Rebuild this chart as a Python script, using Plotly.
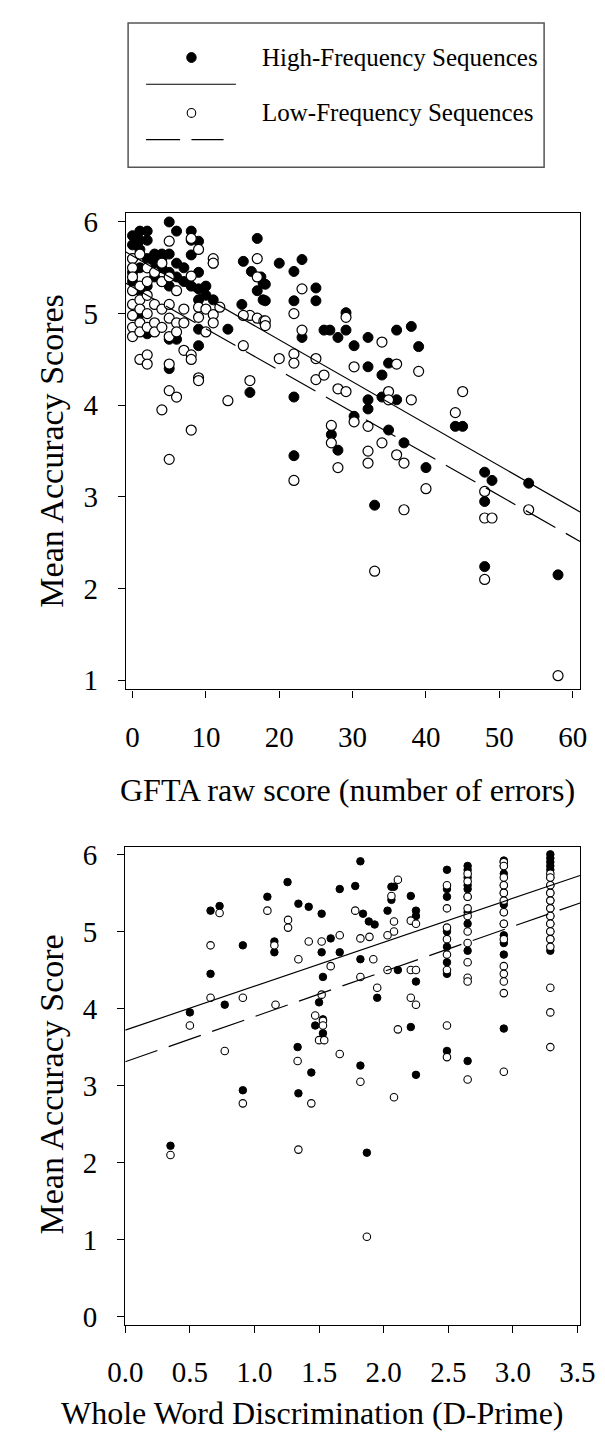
import plotly.graph_objects as go

# ---------------- data: top panel (GFTA raw score vs accuracy) ----------------
gfta_hf_x = [0, 0, 0, 0, 0, 1, 1, 1, 1, 1, 1, 2, 2, 2, 2, 2, 3, 3, 3, 4, 4, 4, 4,
             5, 5, 5, 5, 5, 5, 6, 6, 6, 6, 7, 7, 8, 8, 8, 8, 9, 9, 9, 9, 9, 9, 10, 10, 11, 11,
             13, 15.1, 16.2, 17, 17.5, 17.8, 17, 17.8, 14.9, 16,
             20, 23.1, 22, 18.1, 18.1, 25, 22, 25, 29.1, 23.1, 26.1, 26.9, 28, 29.1, 30.2,
             32.1, 36, 38, 39, 32.1, 34.9, 34, 22, 32.1, 32.1, 34, 36, 30.2, 27.1, 28, 34.9,
             37, 22, 40, 33, 44, 45, 48, 49, 54, 48, 48, 58]
gfta_hf_y = [5.85, 5.75, 5.6, 5.45, 5.35, 5.9, 5.8, 5.7, 5.5, 5.0, 5.25, 5.9, 5.8, 5.6, 4.78, 5.3,
             5.65, 5.4, 5.55, 5.6, 5.5, 5.35, 5.65,
             6.0, 5.65, 5.45, 5.3, 4.72, 4.4, 5.9, 5.55, 5.4, 4.72, 5.5, 5.35, 5.9, 5.8, 5.64, 5.3,
             5.79, 5.45, 5.27, 5.15, 4.83, 4.65, 5.3, 5.2, 5.55, 5.15,
             4.83, 5.57, 5.46, 5.82, 5.4, 5.33, 5.25, 5.15, 5.1, 4.14,
             5.55, 5.59, 5.46, 5.32, 5.14, 5.28, 5.14, 5.14, 5.01, 4.74, 4.82, 4.82, 4.74, 4.82, 4.65,
             4.74, 4.82, 4.86, 4.64, 4.42, 4.46, 4.33, 4.09, 4.06, 3.96, 4.09, 4.06, 3.88, 3.68, 3.51, 3.73,
             3.59, 3.45, 3.32, 2.91, 3.77, 3.77, 3.27, 3.18, 3.15, 2.95, 2.24, 2.15]

gfta_lf_x = [0, 0, 0, 0, 0, 0, 0, 0, 1, 1, 1, 1, 1, 1, 1, 2, 2, 2, 2, 2, 2, 2, 3, 3, 3, 3,
             4, 4, 4, 4, 4, 5, 5, 5, 5, 5, 5, 5, 5, 6, 6, 6, 6, 7, 7, 7, 8, 8, 8, 8, 8,
             9, 9, 9, 9, 9, 10, 10, 11, 11, 11, 11,
             11.9, 13, 15.1, 16, 17, 17.9, 16, 17, 17, 15.1,
             23.1, 22, 18.1, 18.1, 23.1, 29.1, 20, 22, 22, 25, 25, 26.1, 28, 29.1, 34, 36, 39,
             30.2, 34.9, 34.9, 38, 30.2, 32.1, 27.1, 27.1, 34, 32.1, 32.1, 36, 37, 28, 22, 40,
             33, 37, 45, 44, 48, 48, 49, 54, 48, 58]
gfta_lf_y = [5.6, 5.5, 5.4, 5.25, 5.1, 4.98, 4.85, 4.75, 5.65, 5.3, 5.15, 5.05, 4.9, 4.8, 4.5,
             5.5, 5.35, 5.2, 5.0, 4.85, 4.55, 4.45, 5.45, 5.1, 4.9, 4.8,
             5.35, 5.05, 4.85, 3.95, 5.55, 5.79, 5.4, 5.1, 4.95, 4.75, 4.45, 4.16, 3.41,
             5.25, 4.9, 4.8, 4.09, 5.05, 4.6, 4.9, 5.82, 5.41, 4.55, 4.5, 3.73,
             5.7, 5.07, 4.96, 4.3, 4.27, 4.8, 5.05, 5.6, 5.55, 4.99, 4.9,
             5.07, 4.05, 4.65, 4.98, 4.95, 4.92, 4.27, 5.6, 5.4, 4.98,
             5.27, 5.0, 4.92, 4.87, 4.82, 4.96, 4.51, 4.56, 4.46, 4.51, 4.28, 4.33, 4.18, 4.15, 4.69, 4.45, 4.37,
             4.42, 4.15, 4.06, 4.06, 3.82, 3.77, 3.78, 3.59, 3.59, 3.5, 3.37, 3.46, 3.37, 3.32, 3.18, 3.09,
             2.19, 2.86, 4.15, 3.92, 3.06, 2.77, 2.77, 2.86, 2.1, 1.05]

# regression lines (intercept, slope)
gfta_hf_fit = (5.63, -0.0458)
gfta_lf_fit = (5.29, -0.0455)

# ---------------- data: bottom panel (D-prime vs accuracy) ----------------
dp_hf_x = [1.82, 1.256, 1.10, 0.66, 0.73, 1.34, 1.42, 1.52, 1.66, 1.78, 1.84, 1.885, 1.93, 2.03,
           2.06, 2.08, 2.21, 2.06, 1.154, 1.154, 0.91, 0.66, 1.52, 1.59, 1.66, 1.82, 1.53, 2.11,
           0.77, 1.95, 1.50, 1.53, 1.47, 1.53, 1.334, 1.44, 1.82, 0.91, 1.34, 1.87, 2.21, 0.35, 0.5,
           2.25, 2.25, 2.25, 2.25,
           2.49, 2.49, 2.49, 2.49, 2.49, 2.49, 2.49, 2.49,
           2.65, 2.65, 2.65, 2.65, 2.65, 2.65, 2.65, 2.65, 2.65, 2.65,
           2.93, 2.93, 2.93, 2.93, 2.93, 2.93, 2.93, 2.93, 2.93, 2.93, 2.93, 2.93, 2.93,
           3.29, 3.29, 3.29, 3.29, 3.29, 3.29, 3.29, 3.29, 3.29, 3.29, 3.29, 3.29, 3.29, 3.29, 3.29]
dp_hf_y = [5.91, 5.64, 5.45, 5.27, 5.33, 5.36, 5.32, 5.23, 5.55, 5.59, 5.23, 5.13, 5.09, 5.27,
           5.58, 5.58, 5.46, 5.41, 4.87, 4.73, 4.82, 4.45, 4.73, 4.91, 4.73, 4.64, 4.41, 4.50,
           4.05, 4.14, 4.08, 3.86, 3.78, 3.68, 3.50, 3.17, 3.26, 2.94, 2.90, 2.13, 3.76, 2.22, 3.95,
           5.27, 5.2, 4.35, 3.14,
           5.8, 5.55, 5.45, 5.0, 4.8, 4.6, 4.45, 3.45,
           5.85, 5.8, 5.7, 5.6, 5.55, 5.45, 5.25, 5.1, 4.75, 3.32,
           5.92, 5.9, 5.85, 5.75, 5.6, 5.5, 5.35, 5.25, 5.1, 4.95, 4.85, 4.7, 3.74,
           6.0, 5.95, 5.9, 5.85, 5.8, 5.7, 5.6, 5.5, 5.4, 5.3, 5.2, 5.1, 5.0, 4.9, 4.75]

dp_lf_x = [0.73, 1.10, 1.26, 1.26, 2.11, 2.06, 1.78, 2.08, 2.08, 2.03, 2.21, 0.66, 1.154, 1.42,
           1.52, 1.66, 1.82, 1.89, 1.92, 1.34, 1.59, 1.82, 2.03, 2.21, 1.95, 0.66, 0.91, 1.163,
           1.52, 2.21, 1.47, 1.53, 1.53, 1.50, 1.54, 1.334, 0.77, 1.66, 1.82, 0.91, 1.44, 1.34,
           1.87, 2.11, 2.08, 0.35, 0.5,
           2.25, 2.25, 2.25,
           2.49, 2.49, 2.49, 2.49, 2.49, 2.49, 2.49, 2.49,
           2.65, 2.65, 2.65, 2.65, 2.65, 2.65, 2.65, 2.65, 2.65, 2.65, 2.65,
           2.93, 2.93, 2.93, 2.93, 2.93, 2.93, 2.93, 2.93, 2.93, 2.93, 2.93, 2.93, 2.93, 2.93,
           3.29, 3.29, 3.29, 3.29, 3.29, 3.29, 3.29, 3.29, 3.29, 3.29, 3.29, 3.29, 3.29, 3.29]
dp_lf_y = [5.24, 5.27, 5.15, 5.05, 5.67, 5.46, 5.27, 5.13, 5.0, 4.95, 5.14, 4.82, 4.82, 4.87,
           4.87, 4.95, 4.91, 4.93, 4.64, 4.64, 4.55, 4.41, 4.50, 4.50, 4.27, 4.14, 4.14, 4.05,
           4.18, 4.14, 3.91, 3.84, 3.78, 3.59, 3.59, 3.32, 3.45, 3.41, 3.05, 2.77, 2.77, 2.17,
           1.04, 3.73, 2.85, 2.10, 3.78,
           5.1, 4.5, 4.05,
           5.6, 5.3, 5.05, 4.9, 4.7, 4.5, 3.78, 3.37,
           5.75, 5.65, 5.45, 5.3, 5.2, 5.0, 4.85, 4.6, 4.4, 4.35, 3.08,
           5.9, 5.85, 5.7, 5.6, 5.5, 5.4, 5.25, 5.1, 4.9, 4.55, 4.45, 4.35, 4.2, 3.18,
           5.75, 5.7, 5.6, 5.5, 5.4, 5.3, 5.2, 5.1, 5.0, 4.9, 4.8, 4.27, 3.95, 3.5]

dp_hf_fit = (3.72, 0.57)
dp_lf_fit = (3.31, 0.585)

# axis settings
top_xrange = [-0.9, 61]
top_yrange = [0.9, 6.1]
bot_xrange = [0, 3.52]
bot_yrange = [-0.1, 6.1]
top_xticks = [0, 10, 20, 30, 40, 50, 60]
top_yticks = [1, 2, 3, 4, 5, 6]
bot_xticks = [0.0, 0.5, 1.0, 1.5, 2.0, 2.5, 3.0, 3.5]
bot_yticks = [0, 1, 2, 3, 4, 5, 6]

legend_labels = ["High-Frequency Sequences", "Low-Frequency Sequences"]
top_xtitle = "GFTA raw score (number of errors)"
top_ytitle = "Mean Accuracy Scores"
bot_xtitle = "Whole Word Discrimination (D-Prime)"
bot_ytitle = "Mean Accuracy Score"

FONT = "Liberation Serif, Times New Roman, serif"
W, H = 605, 1439


def fit_line(fit, xr):
    a, b = fit
    return [xr[0], xr[1]], [a + b * xr[0], a + b * xr[1]]


fig = go.Figure()

# top panel
fig.add_trace(go.Scatter(x=gfta_hf_x, y=gfta_hf_y, mode="markers", xaxis="x", yaxis="y",
                         marker=dict(size=10, color="black", line=dict(color="black", width=1))))
fig.add_trace(go.Scatter(x=gfta_lf_x, y=gfta_lf_y, mode="markers", xaxis="x", yaxis="y",
                         marker=dict(size=10, color="white", line=dict(color="black", width=1.2))))
lx, ly = fit_line(gfta_hf_fit, top_xrange)
fig.add_trace(go.Scatter(x=lx, y=ly, mode="lines", xaxis="x", yaxis="y",
                         line=dict(color="black", width=1.2)))
lx, ly = fit_line(gfta_lf_fit, top_xrange)
fig.add_trace(go.Scatter(x=lx, y=ly, mode="lines", xaxis="x", yaxis="y",
                         line=dict(color="black", width=1.2, dash="34px,12px")))

# bottom panel
fig.add_trace(go.Scatter(x=dp_hf_x, y=dp_hf_y, mode="markers", xaxis="x2", yaxis="y2",
                         marker=dict(size=7.5, color="black", line=dict(color="black", width=1))))
fig.add_trace(go.Scatter(x=dp_lf_x, y=dp_lf_y, mode="markers", xaxis="x2", yaxis="y2",
                         marker=dict(size=7.5, color="white", line=dict(color="black", width=1.1))))
lx, ly = fit_line(dp_hf_fit, bot_xrange)
fig.add_trace(go.Scatter(x=lx, y=ly, mode="lines", xaxis="x2", yaxis="y2",
                         line=dict(color="black", width=1.2)))
lx, ly = fit_line(dp_lf_fit, bot_xrange)
fig.add_trace(go.Scatter(x=lx, y=ly, mode="lines", xaxis="x2", yaxis="y2",
                         line=dict(color="black", width=1.2, dash="34px,12px")))


def px_x(p):
    return p / W


def px_y(p):
    return 1 - p / H


axis_common = dict(showline=True, mirror=True, linecolor="black", linewidth=1.2,
                   ticks="outside", ticklen=7, tickwidth=1, tickcolor="black",
                   showgrid=False, zeroline=False,
                   tickfont=dict(family=FONT, size=29, color="black"))

fig.update_layout(
    width=W, height=H, margin=dict(l=0, r=0, t=0, b=0),
    paper_bgcolor="white", plot_bgcolor="white", showlegend=False,
    xaxis=dict(domain=[px_x(105.7), px_x(586)], range=top_xrange, tickvals=top_xticks,
               anchor="y", ticklabelstandoff=15, **axis_common),
    yaxis=dict(domain=[px_y(681), px_y(199)], range=top_yrange, tickvals=top_yticks,
               anchor="x", ticklabelstandoff=14, **axis_common),
    xaxis2=dict(domain=[px_x(105), px_x(586)], range=bot_xrange, tickvals=bot_xticks,
                tickformat=".1f", anchor="y2", ticklabelstandoff=15, **axis_common),
    yaxis2=dict(domain=[px_y(1323.3), px_y(840)], range=bot_yrange, tickvals=bot_yticks,
                anchor="x2", ticklabelstandoff=14, **axis_common),
)

xt_font = dict(family=FONT, size=32, color="black")
yt_font = dict(family=FONT, size=34, color="black")
fig.add_annotation(x=px_x(340), y=px_y(783), xref="paper", yref="paper", text=top_xtitle,
                   showarrow=False, font=xt_font, xanchor="center", yanchor="middle")
fig.add_annotation(x=px_x(27), y=px_y(440), xref="paper", yref="paper", text=top_ytitle,
                   showarrow=False, font=yt_font, textangle=-90, xanchor="center", yanchor="middle")
fig.add_annotation(x=px_x(303), y=px_y(1413), xref="paper", yref="paper", text=bot_xtitle,
                   showarrow=False, font=xt_font, xanchor="center", yanchor="middle")
fig.add_annotation(x=px_x(27), y=px_y(1081), xref="paper", yref="paper", text=bot_ytitle,
                   showarrow=False, font=yt_font, textangle=-90, xanchor="center", yanchor="middle")

# legend box (drawn in paper pixels)
leg_font = dict(family=FONT, size=25, color="black")
fig.add_shape(type="rect", xref="paper", yref="paper", x0=px_x(108), x1=px_x(548),
              y0=px_y(153), y1=px_y(7), line=dict(color="#555555", width=1.5))
fig.add_shape(type="circle", xref="paper", yref="paper", x0=px_x(170), x1=px_x(180),
              y0=px_y(47), y1=px_y(37), fillcolor="black", line=dict(color="black", width=1))
fig.add_shape(type="line", xref="paper", yref="paper", x0=px_x(127), x1=px_x(222),
              y0=px_y(69), y1=px_y(69), line=dict(color="black", width=1.2))
fig.add_shape(type="circle", xref="paper", yref="paper", x0=px_x(170.5), x1=px_x(179.5),
              y0=px_y(102.5), y1=px_y(93.5), fillcolor="white", line=dict(color="black", width=1.1))
fig.add_shape(type="line", xref="paper", yref="paper", x0=px_x(127), x1=px_x(163),
              y0=px_y(125), y1=px_y(125), line=dict(color="black", width=1.2))
fig.add_shape(type="line", xref="paper", yref="paper", x0=px_x(175), x1=px_x(209),
              y0=px_y(125), y1=px_y(125), line=dict(color="black", width=1.2))
fig.add_annotation(x=px_x(247), y=px_y(42), xref="paper", yref="paper", text=legend_labels[0],
                   showarrow=False, font=leg_font, xanchor="left", yanchor="middle")
fig.add_annotation(x=px_x(247), y=px_y(98), xref="paper", yref="paper", text=legend_labels[1],
                   showarrow=False, font=leg_font, xanchor="left", yanchor="middle")

fig.write_html("out.html")
